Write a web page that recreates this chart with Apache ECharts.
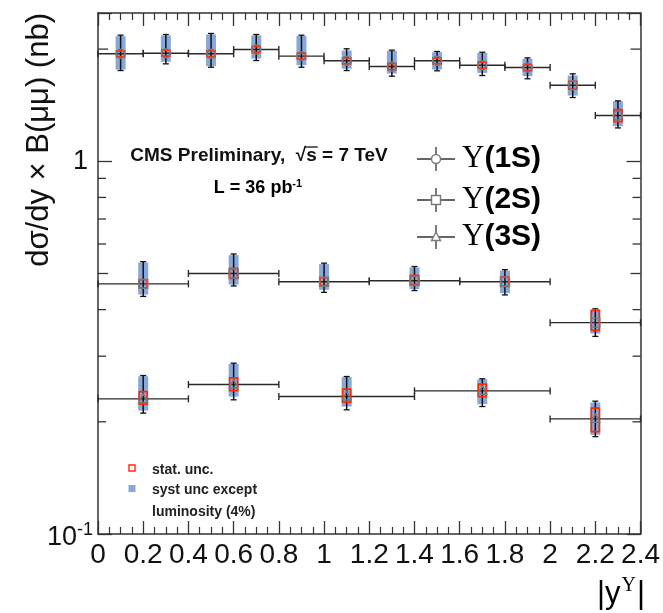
<!DOCTYPE html>
<html><head><meta charset="utf-8">
<script src="https://cdn.jsdelivr.net/npm/echarts@6/dist/echarts.min.js"></script>
<style>html,body{margin:0;padding:0;background:#fff}#c{width:663px;height:613px}</style>
</head><body><div id="c"></div>
<script>
// ---------- Data ----------
// Y(1S)
const x1S      = [0.1, 0.3, 0.5, 0.7, 0.9, 1.1, 1.3, 1.5, 1.7, 1.9, 2.1, 2.3];
const binLo1S  = [0.0, 0.2, 0.4, 0.6, 0.8, 1.0, 1.2, 1.4, 1.6, 1.8, 2.0, 2.2];
const binHi1S  = [0.2, 0.4, 0.6, 0.8, 1.0, 1.2, 1.4, 1.6, 1.8, 2.0, 2.2, 2.4];
const y1S      = [1.943, 1.950, 1.943, 1.995, 1.915, 1.861, 1.796, 1.861, 1.811, 1.785, 1.600, 1.327];
const tot1SLo  = [1.752, 1.826, 1.788, 1.864, 1.788, 1.752, 1.692, 1.749, 1.699, 1.665, 1.483, 1.229];
const tot1SHi  = [2.180, 2.189, 2.203, 2.189, 2.180, 2.004, 1.987, 1.971, 1.962, 1.895, 1.717, 1.453];
const sys1SLo  = [1.763, 1.849, 1.800, 1.887, 1.811, 1.771, 1.720, 1.763, 1.727, 1.692, 1.501, 1.242];
const sys1SHi  = [2.167, 2.176, 2.190, 2.176, 2.170, 1.983, 1.980, 1.962, 1.955, 1.884, 1.699, 1.450];
const stat1SLo = [1.907, 1.915, 1.907, 1.959, 1.879, 1.826, 1.763, 1.826, 1.777, 1.752, 1.561, 1.278];
const stat1SHi = [1.979, 1.987, 1.979, 2.033, 1.950, 1.895, 1.829, 1.895, 1.845, 1.818, 1.640, 1.377];
// Y(2S)
const x2S      = [0.2, 0.6, 1.0, 1.4, 1.8, 2.2];
const binLo2S  = [0.0, 0.4, 0.8, 1.2, 1.6, 2.0];
const binHi2S  = [0.4, 0.8, 1.2, 1.6, 2.0, 2.4];
const y2S      = [0.469, 0.500, 0.475, 0.478, 0.475, 0.369];
const tot2SLo  = [0.434, 0.463, 0.445, 0.450, 0.438, 0.339];
const tot2SHi  = [0.538, 0.564, 0.533, 0.522, 0.512, 0.402];
const sys2SLo  = [0.439, 0.467, 0.452, 0.454, 0.443, 0.345];
const sys2SHi  = [0.535, 0.560, 0.530, 0.519, 0.509, 0.399];
const stat2SLo = [0.457, 0.485, 0.464, 0.467, 0.462, 0.352];
const stat2SHi = [0.481, 0.516, 0.487, 0.494, 0.489, 0.398];
// Y(3S)
const x3S      = [0.2, 0.6, 1.1, 1.7, 2.2];
const binLo3S  = [0.0, 0.4, 0.8, 1.4, 2.0];
const binHi3S  = [0.4, 0.8, 1.4, 2.0, 2.4];
const y3S      = [0.2305, 0.2518, 0.2338, 0.2421, 0.2036];
const tot3SLo  = [0.2110, 0.2291, 0.2154, 0.2198, 0.1825];
const tot3SHi  = [0.2662, 0.2873, 0.2646, 0.2609, 0.2272];
const sys3SLo  = [0.2144, 0.2338, 0.2198, 0.2230, 0.1845];
const sys3SHi  = [0.2650, 0.2860, 0.2635, 0.2600, 0.2253];
const stat3SLo = [0.2230, 0.2426, 0.2258, 0.2338, 0.1883];
const stat3SHi = [0.2411, 0.2624, 0.2447, 0.2524, 0.2177];
// axis
const yMinorTicks = [0.2, 0.3, 0.4, 0.5, 0.6, 0.7, 0.8, 0.9, 2];
const xMin = 0, xMax = 2.4, xStep = 0.2;
const yMin = 0.1, yMax = 2.5;

// ---------- Build ----------
function rows(x, lo, hi, y, tl, th, sl, sh, pl, ph) {
  return x.map((v, i) => [v, y[i], lo[i], hi[i], tl[i], th[i], sl[i], sh[i], pl[i], ph[i]]);
}
const SANS = '"Liberation Sans", Arial, Helvetica, sans-serif';
const SERIF = '"Liberation Serif", "Times New Roman", serif';
const BLUE = '#89a8da', RED = '#ff2a00', GREY = '#7a7a7a';

function markerShape(type, cx, cy) {
  const st = { fill: 'none', stroke: GREY, lineWidth: 1.4 };
  if (type === 'circle') return { type: 'circle', shape: { cx, cy, r: 4.5 }, style: st };
  if (type === 'square') return { type: 'rect', shape: { x: cx - 4.5, y: cy - 4.5, width: 9, height: 9 }, style: st };
  return { type: 'polygon', shape: { points: [[cx, cy - 5], [cx - 4.5, cy + 3.5], [cx + 4.5, cy + 3.5]] }, style: st };
}

function makeRender(mtype) {
  return function (params, api) {
    const x = api.value(0), y = api.value(1);
    const c = api.coord([x, y]);
    const bl = api.coord([api.value(2), y])[0], bh = api.coord([api.value(3), y])[0];
    const tLo = api.coord([x, api.value(4)])[1], tHi = api.coord([x, api.value(5)])[1];
    const sLo = api.coord([x, api.value(6)])[1], sHi = api.coord([x, api.value(7)])[1];
    const pLo = api.coord([x, api.value(8)])[1], pHi = api.coord([x, api.value(9)])[1];
    const ln = { stroke: '#2a2a2a', lineWidth: 1.4 };
    const ch = [];
    ch.push({ type: 'rect', shape: { x: c[0] - 5, y: sHi, width: 10, height: sLo - sHi }, style: { fill: BLUE } });
    ch.push({ type: 'line', shape: { x1: bl, y1: c[1], x2: bh, y2: c[1] }, style: ln });
    ch.push({ type: 'line', shape: { x1: bl, y1: c[1] - 3.5, x2: bl, y2: c[1] + 3.5 }, style: ln });
    ch.push({ type: 'line', shape: { x1: bh, y1: c[1] - 3.5, x2: bh, y2: c[1] + 3.5 }, style: ln });
    ch.push({ type: 'line', shape: { x1: c[0], y1: tHi, x2: c[0], y2: tLo }, style: { stroke: '#111', lineWidth: 1.5 } });
    ch.push({ type: 'line', shape: { x1: c[0] - 3, y1: tHi, x2: c[0] + 3, y2: tHi }, style: { stroke: '#111', lineWidth: 1.3 } });
    ch.push({ type: 'line', shape: { x1: c[0] - 3, y1: tLo, x2: c[0] + 3, y2: tLo }, style: { stroke: '#111', lineWidth: 1.3 } });
    ch.push({ type: 'rect', shape: { x: c[0] - 4, y: pHi, width: 8, height: pLo - pHi }, style: { fill: 'none', stroke: RED, lineWidth: 1.7 } });
    ch.push(markerShape(mtype, c[0], c[1]));
    return { type: 'group', children: ch };
  };
}

function yTickRender(params, api) {
  const v = api.value(0);
  const l = api.coord([xMin, v]), r = api.coord([xMax, v]);
  const len = (v === 0.5 || v === 2) ? 10 : 8;
  const st = { stroke: '#333', lineWidth: 1.3 };
  return { type: 'group', children: [
    { type: 'line', shape: { x1: l[0], y1: l[1], x2: l[0] + len, y2: l[1] }, style: st },
    { type: 'line', shape: { x1: r[0], y1: r[1], x2: r[0] - len, y2: r[1] }, style: st }
  ] };
}

const axisLineStyle = { color: '#333', width: 1.5 };
const xAxisBase = {
  type: 'value', min: xMin, max: xMax, interval: xStep,
  axisLine: { show: true, onZero: false, lineStyle: axisLineStyle },
  axisTick: { show: true, inside: true, length: 13, lineStyle: { color: '#333', width: 1.3 } },
  minorTick: { show: true, splitNumber: 4, length: 7, lineStyle: { color: '#333', width: 1.2 } },
  splitLine: { show: false }, minorSplitLine: { show: false }
};
const yAxisBase = {
  type: 'log', logBase: 10, min: yMin, max: yMax,
  axisLine: { show: true, onZero: false, lineStyle: axisLineStyle },
  axisTick: { show: true, inside: true, length: 14, lineStyle: { color: '#333', width: 1.3 } },
  splitLine: { show: false }
};

const option = {
  backgroundColor: '#fff',
  animation: false,
  grid: { left: 98, right: 20, top: 13, bottom: 79, containLabel: false },
  xAxis: [
    Object.assign({}, xAxisBase, {
      position: 'bottom',
      axisLabel: { show: true, fontSize: 28, fontFamily: SANS, color: '#111', margin: 7,
        formatter: v => String(+(+v).toFixed(1)) }
    }),
    Object.assign({}, xAxisBase, { position: 'top', axisLabel: { show: false } })
  ],
  yAxis: [
    Object.assign({}, yAxisBase, {
      position: 'left',
      axisLabel: {
        show: true, margin: 5, color: '#111', fontFamily: SANS,
        formatter: v => Math.abs(v - 1) < 1e-6 ? '{o|1}' : (Math.abs(v - 0.1) < 1e-6 ? '{n|10}{s|-1}' : ''),
        rich: {
          o: { fontSize: 27, fontFamily: SANS, color: '#111', padding: [0, 5, 0, 0] },
          n: { fontSize: 27, fontFamily: SANS, color: '#111', padding: [8, 0, 0, 0] },
          s: { fontSize: 18, fontFamily: SANS, color: '#111', padding: [0, 0, 8, 0] }
        }
      }
    }),
    Object.assign({}, yAxisBase, { position: 'right', axisLabel: { show: false } })
  ],
  series: [
    { type: 'custom', name: 'ticks', xAxisIndex: 0, yAxisIndex: 0, silent: true,
      data: yMinorTicks.map(v => [v]), encode: { y: 0 }, renderItem: yTickRender, z: 1 },
    { type: 'custom', name: 'Y(3S)', xAxisIndex: 0, yAxisIndex: 0, silent: true,
      data: rows(x3S, binLo3S, binHi3S, y3S, tot3SLo, tot3SHi, sys3SLo, sys3SHi, stat3SLo, stat3SHi),
      encode: { x: 0, y: 1 }, renderItem: makeRender('triangle'), z: 3 },
    { type: 'custom', name: 'Y(2S)', xAxisIndex: 0, yAxisIndex: 0, silent: true,
      data: rows(x2S, binLo2S, binHi2S, y2S, tot2SLo, tot2SHi, sys2SLo, sys2SHi, stat2SLo, stat2SHi),
      encode: { x: 0, y: 1 }, renderItem: makeRender('square'), z: 3 },
    { type: 'custom', name: 'Y(1S)', xAxisIndex: 0, yAxisIndex: 0, silent: true,
      data: rows(x1S, binLo1S, binHi1S, y1S, tot1SLo, tot1SHi, sys1SLo, sys1SHi, stat1SLo, stat1SHi),
      encode: { x: 0, y: 1 }, renderItem: makeRender('circle'), z: 3 }
  ],
  graphic: []
};

// ---- annotations ----
const g = option.graphic;
// y-axis title (rotated, top-aligned)
g.push({ type: 'text', x: 39, y: 13, rotation: Math.PI / 2,
  style: { text: 'dσ/dy × B(μμ) (nb)', font: '31px ' + SANS, fill: '#111', textAlign: 'right', textVerticalAlign: 'middle' } });
// x-axis title
g.push({ type: 'text', x: 645, y: 594,
  style: { text: '{a||y}{s|Υ}{a||}', textAlign: 'right', textVerticalAlign: 'middle',
    rich: { a: { fontSize: 31, fontFamily: SANS, color: '#111' },
            s: { fontSize: 20, fontFamily: SERIF, color: '#111', padding: [0, 1, 16, 1] } } } });
// CMS label with sqrt overline
const cmsText = 'CMS Preliminary,  √s = 7 TeV';
const cmsFont = 'bold 19px ' + SANS;
const cmsCx = 259, cmsCy = 156;
(function () {
  const ctx = document.createElement('canvas').getContext('2d');
  ctx.font = cmsFont;
  const full = ctx.measureText(cmsText).width;
  const pre = ctx.measureText('CMS Preliminary,  √').width;
  const sW = ctx.measureText('s').width;
  const x0 = cmsCx - full / 2 + pre;
  g.push({ type: 'line', shape: { x1: x0 - 1, y1: cmsCy - 9, x2: x0 + sW + 1, y2: cmsCy - 9 }, style: { stroke: '#111', lineWidth: 1.3 } });
})();
g.push({ type: 'text', x: cmsCx, y: cmsCy,
  style: { text: cmsText, font: cmsFont, fill: '#111', textAlign: 'center', textVerticalAlign: 'middle' } });
g.push({ type: 'text', x: 258, y: 188,
  style: { text: '{b|L = 36 pb}{s|-1}', textAlign: 'center', textVerticalAlign: 'middle',
    rich: { b: { fontSize: 18, fontWeight: 'bold', fontFamily: SANS, color: '#111' },
            s: { fontSize: 11, fontWeight: 'bold', fontFamily: SANS, color: '#111', padding: [0, 0, 9, 0] } } } });
// Upsilon legend
const legRows = [['circle', '(1S)', 159], ['square', '(2S)', 200], ['triangle', '(3S)', 237]];
legRows.forEach(([m, lab, yy]) => {
  g.push({ type: 'line', shape: { x1: 417, y1: yy, x2: 455, y2: yy }, style: { stroke: '#333', lineWidth: 1.4 } });
  g.push({ type: 'line', shape: { x1: 436, y1: yy - 12, x2: 436, y2: yy + 12 }, style: { stroke: '#444', lineWidth: 1.4 } });
  g.push(Object.assign(markerShape(m, 436, yy), { style: { fill: '#fff', stroke: GREY, lineWidth: 1.4 } }));
  g.push({ type: 'text', x: 462, y: yy,
    style: { text: '{u|Υ}{b|' + lab + '}', textAlign: 'left', textVerticalAlign: 'middle',
      rich: { u: { fontSize: 31, fontFamily: SERIF, color: '#111' },
              b: { fontSize: 30, fontWeight: 'bold', fontFamily: SANS, color: '#111' } } } });
});
// uncertainty legend
g.push({ type: 'rect', shape: { x: 129, y: 465, width: 6, height: 6 }, style: { fill: 'none', stroke: RED, lineWidth: 1.4 } });
g.push({ type: 'rect', shape: { x: 128.5, y: 485, width: 7, height: 7 }, style: { fill: BLUE } });
[['stat. unc.', 470], ['syst unc except', 490], ['luminosity (4%)', 512]].forEach(([t, yy]) => {
  g.push({ type: 'text', x: 152, y: yy,
    style: { text: t, font: 'bold 14px ' + SANS, fill: '#222', textAlign: 'left', textVerticalAlign: 'middle' } });
});

const chart = echarts.init(document.getElementById('c'), null, { renderer: 'canvas' });
chart.setOption(option);
</script>
</body></html>
